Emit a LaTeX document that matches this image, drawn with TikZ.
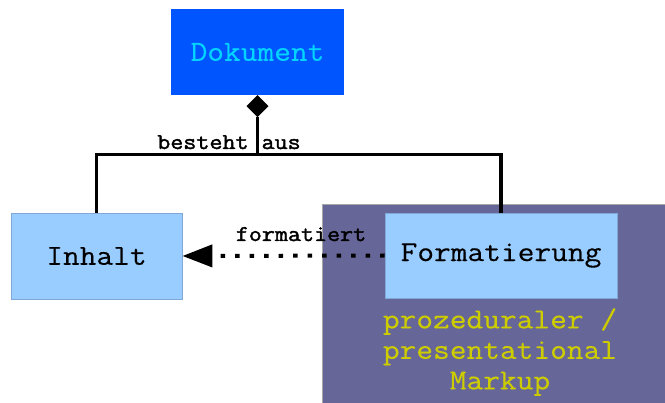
\documentclass[tikz,border=0pt]{standalone}
\usepackage{fontspec}
\setmonofont{Latin Modern Mono}[FakeStretch=1.15]
\newfontfamily\boxfont{Latin Modern Mono}[FakeStretch=1.12, FakeBold=0.35]
\newfontfamily\lblfont{Latin Modern Mono}[FakeStretch=1.12, FakeBold=1.7]
\usetikzlibrary{arrows.meta}
\definecolor{dokblue}{HTML}{0055FF}
\definecolor{dokcyan}{HTML}{00D4FF}
\definecolor{lightbox}{HTML}{99CCFF}
\definecolor{lightedge}{HTML}{7FA8D6}
\definecolor{purplebg}{HTML}{666699}
\definecolor{markupyellow}{HTML}{CCCC00}
\tikzset{
  box/.style={rectangle, inner sep=0pt, font=\boxfont\fontsize{29}{30}\selectfont},
  lightbox/.style={box, fill=lightbox, draw=lightedge, line width=0.8pt},
  conn/.style={line width=3.6pt, line join=miter, black},
  lbl/.style={font=\lblfont\fontsize{22.6}{24}\selectfont, inner sep=0pt},
}
\begin{document}
\begin{tikzpicture}[x=1pt,y=-1pt]
  \useasboundingbox (0,0) rectangle (665,403);
  % background panel for the formatting part
  \fill[purplebg, draw=gray!70, line width=0.8pt] (322,204) rectangle (668,406);
  % classes
  \node[box, fill=dokblue, text=dokcyan, minimum width=173pt, minimum height=86pt] (dok) at (257.5,52) {Dokument};
  \node[lightbox, minimum width=171pt, minimum height=86pt] (inh) at (96.5,256) {Inhalt};
  \node[lightbox, minimum width=232pt, minimum height=85pt] (form) at (501,255.5) {Formatierung};
  \node[box, text=markupyellow, align=center, font=\boxfont\fontsize{29}{30.5}\selectfont] (markup) at (500,352)
    {prozeduraler /\\presentational\\Markup};
  % composition with a filled diamond at the whole
  \coordinate (j) at (257.5,154.5);
  \coordinate (dtip) at ([yshift=-22pt]dok.south);
  \fill (dok.south) -- ++(11,11) -- (dtip) -- ++(-11,-11) -- cycle;
  \draw[conn] (dtip) -- (j);
  \draw[conn] (inh.north) |- (j) -| (form.north);
  \node[lbl, anchor=base] (lb1) at (229,149) {besteht aus};
  % dependency
  \draw[conn, line width=4pt, dash pattern=on 4.5pt off 10pt, -{Triangle[length=30pt,width=22pt]}] (form.west) -- (inh.east);
  \node[lbl, anchor=base] (lb2) at (301,241) {formatiert};
\end{tikzpicture}
\end{document}
